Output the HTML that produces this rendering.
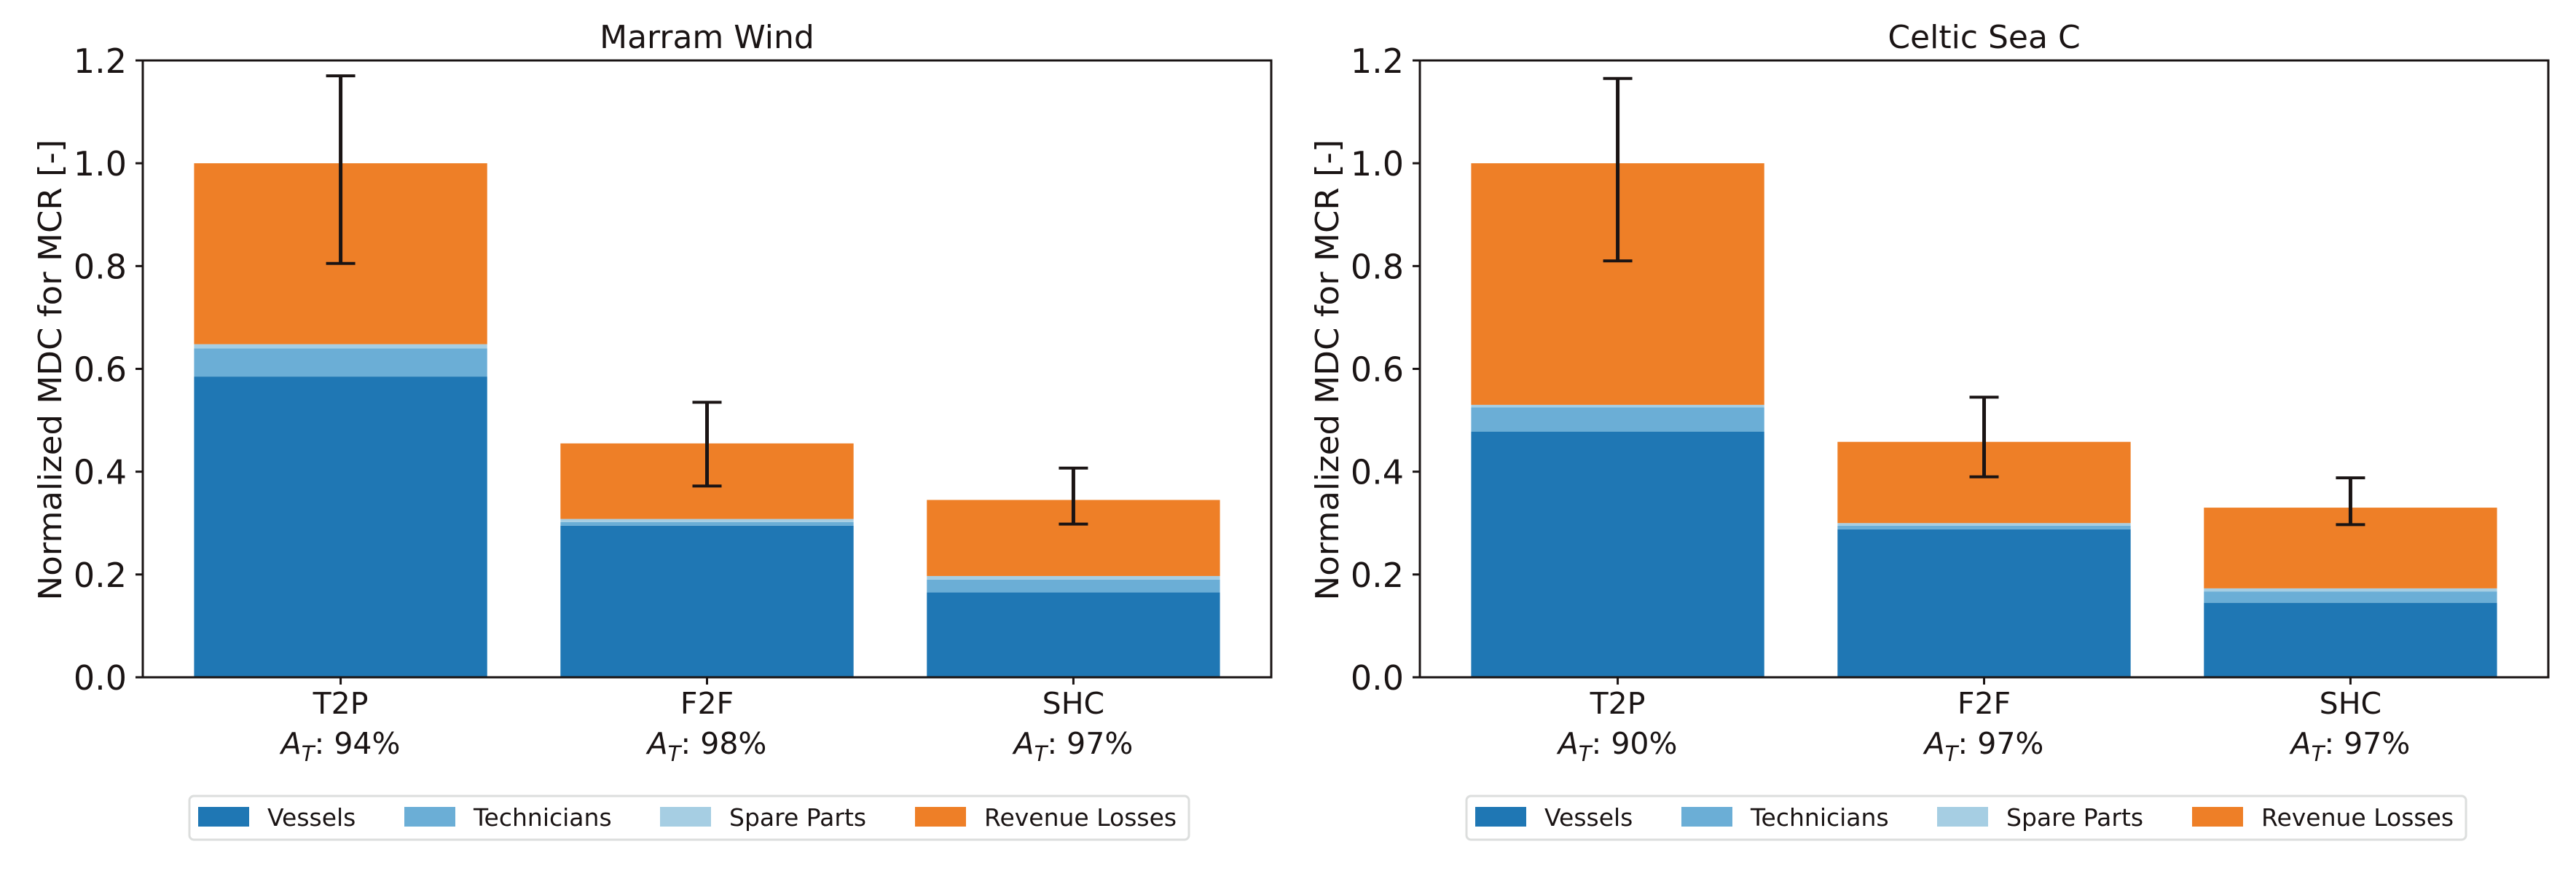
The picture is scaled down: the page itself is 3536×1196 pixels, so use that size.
<!DOCTYPE html>
<html><head><meta charset="utf-8"><style>
html,body{margin:0;padding:0;background:#fff;}
svg{display:block;font-family:"DejaVu Sans","Liberation Sans",sans-serif;}
</style></head>
<body>
<svg id="fig" width="3536" height="1196" viewBox="0 0 3536 1196" xmlns="http://www.w3.org/2000/svg"></svg>
<script>
const categories = ["T2P","F2F","SHC"];
const seriesNames = ["Vessels","Technicians","Spare Parts","Revenue Losses"];
const seriesColors = ["#1f77b4","#6baed6","#a6cee3","#ee7f27"];
const yTicks = [0.0,0.2,0.4,0.6,0.8,1.0,1.2];
const yTickLabels = ["0.0","0.2","0.4","0.6","0.8","1.0","1.2"];
// Marram Wind
const mwTitle = "Marram Wind";
const mwVessels = [0.585,0.295,0.165];
const mwTechnicians = [0.055,0.007,0.025];
const mwSpare = [0.008,0.006,0.007];
const mwRevenue = [0.352,0.147,0.148];
const mwErrLow = [0.805,0.372,0.298];
const mwErrHigh = [1.17,0.535,0.407];
const mwAvail = ["94%","98%","97%"];
// Celtic Sea C
const csTitle = "Celtic Sea C";
const csVessels = [0.478,0.288,0.145];
const csTechnicians = [0.047,0.007,0.022];
const csSpare = [0.005,0.005,0.006];
const csRevenue = [0.470,0.158,0.157];
const csErrLow = [0.81,0.39,0.297];
const csErrHigh = [1.165,0.545,0.388];
const csAvail = ["90%","97%","97%"];

const NS="http://www.w3.org/2000/svg";
const svg=document.getElementById('fig');
function mk(tag,attrs,parent){const e=document.createElementNS(NS,tag);for(const k in attrs)e.setAttribute(k,attrs[k]);(parent||svg).appendChild(e);return e;}

function panel(x0,title,series,errLow,errHigh,avail,key){
  const top=83,bottom=930,w=1549,x1=x0+w;
  const xmin=-0.54,xmax=2.54,ymin=0,ymax=1.2;
  const xs=v=>x0+(v-xmin)/(xmax-xmin)*w;
  const ys=v=>bottom-(v-ymin)/(ymax-ymin)*(bottom-top);
  const g=mk('g',{});
  
  
  const t=mk('text',{x:(x0+x1)/2,y:66,'text-anchor':'middle','font-size':44,fill:'#1a1414'},g);
  t.textContent=title;
  
  
  categories.forEach((c,i)=>{
    let base=0;
    series.forEach((s,j)=>{
      const v=s[i];
      const r=mk('rect',{x:xs(i-0.4),y:ys(base+v),width:xs(i+0.4)-xs(i-0.4),height:ys(base)-ys(base+v),fill:seriesColors[j]},g);
      
      
      base+=v;
    });
    const eg=mk('g',{stroke:'#1a1414','stroke-width':5},g);
    
    
    const cx=xs(i);
    mk('line',{x1:cx,x2:cx,y1:ys(errLow[i]),y2:ys(errHigh[i])},eg);
    mk('line',{x1:cx-20,x2:cx+20,y1:ys(errLow[i]),y2:ys(errLow[i]),'stroke-width':4},eg);
    mk('line',{x1:cx-20,x2:cx+20,y1:ys(errHigh[i]),y2:ys(errHigh[i]),'stroke-width':4},eg);
    mk('line',{x1:cx,x2:cx,y1:bottom,y2:bottom+10,stroke:'#1a1414','stroke-width':3},g);
    const xl=mk('text',{x:cx,y:980,'text-anchor':'middle','font-size':41,fill:'#1a1414'},g);
    xl.textContent=c;
    
    
    const al=mk('text',{x:cx,y:1035,'text-anchor':'middle','font-size':41,fill:'#1a1414'},g);
    
    
    const a1=mk('tspan',{'font-style':'italic'},al);a1.textContent='A';
    const a2=mk('tspan',{'font-style':'italic','font-size':29,dy:10},al);a2.textContent='T';
    const a3=mk('tspan',{dy:-10},al);a3.textContent=': '+avail[i];
  });
  yTicks.forEach((v,k)=>{
    mk('line',{x1:x0-10,x2:x0,y1:ys(v),y2:ys(v),stroke:'#1a1414','stroke-width':3},g);
    const tl=mk('text',{x:x0-22,y:ys(v)+17,'text-anchor':'end','font-size':46,fill:'#1a1414'},g);
    tl.textContent=yTickLabels[k];
    
    
  });
  const fr=mk('rect',{x:x0,y:top,width:w,height:bottom-top,fill:'none',stroke:'#1a1414','stroke-width':3},g);
  
  
  const yl=mk('text',{x:0,y:0,transform:'translate('+(x0-112)+',508) rotate(-90)','text-anchor':'middle','font-size':44,fill:'#1a1414',textLength:633,lengthAdjust:'spacingAndGlyphs'},g);
  yl.textContent='Normalized MDC for MCR [-]';
  
  
  const lx=x0+64;
  const lg=mk('g',{},g);
  
  
  mk('rect',{x:lx,y:1093,width:1372,height:60,rx:6,fill:'#fff',stroke:'#dcdedd','stroke-width':3},lg);
  const offs=[12,295,646,996];
  seriesNames.forEach((n,j)=>{
    const e=mk('g',{},lg);
    
    
    mk('rect',{x:lx+offs[j],y:1108,width:70,height:27,fill:seriesColors[j]},e);
    const tt=mk('text',{x:lx+offs[j]+95,y:1134,'font-size':33,fill:'#1a1414'},e);
    tt.textContent=n;
  });
}
panel(196,mwTitle,[mwVessels,mwTechnicians,mwSpare,mwRevenue],mwErrLow,mwErrHigh,mwAvail,'marram-wind');
panel(1949,csTitle,[csVessels,csTechnicians,csSpare,csRevenue],csErrLow,csErrHigh,csAvail,'celtic-sea-c');
</script>
</body></html>
